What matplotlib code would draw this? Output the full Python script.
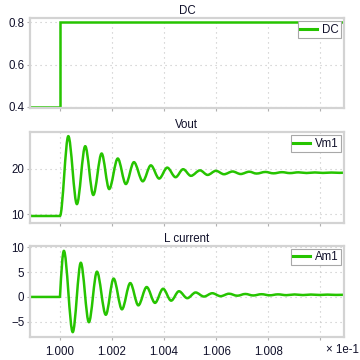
import numpy as np
import matplotlib
matplotlib.use("Agg")
import matplotlib.pyplot as plt
from matplotlib.path import Path
from matplotlib.patches import PathPatch
from matplotlib.lines import Line2D

plt.rcParams['font.family'] = ['Liberation Sans', 'DejaVu Sans']

# ---- data (time axis in units of 1e-1 s) ----
dc_t = [0.9988, 1.0000, 1.0000, 1.0110]
dc_v = [0.4, 0.4, 0.8, 0.8]

# Vout extrema (peaks / troughs)
vout_t = [0.9988, 1.00000, 1.00032, 1.00065, 1.00097, 1.00128, 1.00160, 1.00189,
          1.00222, 1.00253, 1.00284, 1.00318, 1.00349, 1.00381, 1.00412, 1.00444,
          1.00473, 1.00503, 1.00538, 1.00567, 1.00599, 1.00630, 1.00663, 1.00694,
          1.00727, 1.00755, 1.00789, 1.00820, 1.00853, 1.00883, 1.00916, 1.00947,
          1.00979, 1.01010, 1.01043, 1.01073, 1.01100]
vout_v = [9.6, 9.6, 27.1, 12.2, 24.9, 14.2, 23.3, 15.5,
          22.2, 16.6, 21.4, 17.2, 20.7, 17.8, 20.2, 18.1,
          19.85, 18.4, 19.6, 18.6, 19.5, 18.75, 19.35, 18.8,
          19.3, 18.9, 19.25, 18.95, 19.2, 19.0, 19.17, 19.02,
          19.14, 19.04, 19.12, 19.06, 19.09]

# inductor current extrema
cur_t = [0.9988, 1.00000, 1.00015, 1.00049, 1.00080, 1.00111, 1.00142, 1.00176,
         1.00206, 1.00238, 1.00270, 1.00301, 1.00333, 1.00365, 1.00396, 1.00427,
         1.00457, 1.00489, 1.00521, 1.00553, 1.00585, 1.00617, 1.00649, 1.00681,
         1.00712, 1.00742, 1.00774, 1.00806, 1.00837, 1.00870, 1.00901, 1.00933,
         1.00964, 1.00997, 1.01027, 1.01060, 1.01100]
cur_v = [0.0, 0.0, 9.3, -7.1, 6.9, -5.1, 5.1, -3.6,
         3.7, -2.5, 2.8, -1.7, 2.0, -1.2, 1.65, -0.75,
         1.15, -0.25, 0.9, 0.08, 0.75, 0.15, 0.65, 0.25,
         0.6, 0.3, 0.55, 0.33, 0.52, 0.36, 0.5, 0.38,
         0.48, 0.4, 0.47, 0.41, 0.44]

titles = ["DC", "Vout", "L current"]
labels = ["DC", "Vm1", "Am1"]
yticks = [[0.4, 0.6, 0.8], [10, 20], [-5, 0, 5, 10]]
ylims = [(0.392, 0.819), (8.1, 27.9), (-8.0, 10.3)]
xticks = [1.000, 1.002, 1.004, 1.006, 1.008, 1.010]
xtick_labels = ["1.000", "1.002", "1.004", "1.006", "1.008", ""]

green = '#26c400'
lw = 1.8
fs = 8.3


def wave_path(ts, vs, kinks=()):
    # smooth curve through extrema: flat tangents at every point,
    # except the points in kinks which leave with a sine-like slope
    verts = [(ts[0], vs[0])]
    codes = [Path.MOVETO]
    for i in range(len(ts) - 1):
        t0, v0, t1, v1 = ts[i], vs[i], ts[i+1], vs[i+1]
        dt = t1 - t0
        if i in kinks:
            c1 = (t0 + dt/3, v0 + (np.pi/6)*(v1 - v0))
        else:
            c1 = (t0 + dt/3, v0)
        c2 = (t1 - dt/3, v1)
        verts += [c1, c2, (t1, v1)]
        codes += [Path.CURVE4]*3
    return Path(verts, codes)


fig = plt.figure(figsize=(3.6, 3.6), dpi=100)
positions = [[0.0833, 0.699, 0.872, 0.250],
             [0.0833, 0.381, 0.872, 0.251],
             [0.0833, 0.065, 0.872, 0.252]]

axes = [fig.add_axes(p) for p in positions]

for k, ax in enumerate(axes):
    ax.set_xlim(0.998848, 1.010906)
    ax.set_ylim(*ylims[k])
    ax.set_xticks(xticks)
    ax.set_yticks(yticks[k])
    if k == 2:
        ax.set_xticklabels(xtick_labels)
    else:
        ax.set_xticklabels([])
    ax.grid(True, color='#c4c4c4', linestyle=(0, (1, 3.5)), linewidth=0.8)
    ax.set_axisbelow(True)
    for s in ax.spines.values():
        s.set_color('#d3d3d3')
        s.set_linewidth(1.6)
    ax.tick_params(axis='both', labelsize=fs, colors='#b0b0b0',
                   labelcolor='#10102a', length=2.5, width=0.8)
    ax.tick_params(axis='x', pad=4)
    ax.tick_params(axis='y', pad=1.5)
    ax.set_title(titles[k], fontsize=fs, pad=3, color='#10102a')

# DC step
axes[0].plot(dc_t, dc_v, color=green, lw=lw, solid_joinstyle='miter')

# Vout and inductor current
axes[1].add_patch(PathPatch(wave_path(vout_t, vout_v), fill=False,
                            edgecolor=green, lw=lw, joinstyle='round'))
axes[2].add_patch(PathPatch(wave_path(cur_t, cur_v, kinks=(1,)), fill=False,
                            edgecolor=green, lw=lw, joinstyle='round'))

for k, ax in enumerate(axes):
    h = Line2D([], [], color=green, lw=2.2)
    leg = ax.legend([h], [labels[k]], loc='upper right', fontsize=fs,
                    fancybox=False, framealpha=1, edgecolor='#a8a8a8',
                    handlelength=1.5, handletextpad=0.4, borderpad=0.2,
                    borderaxespad=0.25)
    leg.get_frame().set_linewidth(0.8)
    for t in leg.get_texts():
        t.set_color('#10102a')

fig.text(0.997, 0.027, "\u00d7 1e-1", ha='right', va='center',
         fontsize=fs, color='#10102a')

fig.savefig('out.png', dpi=100)
